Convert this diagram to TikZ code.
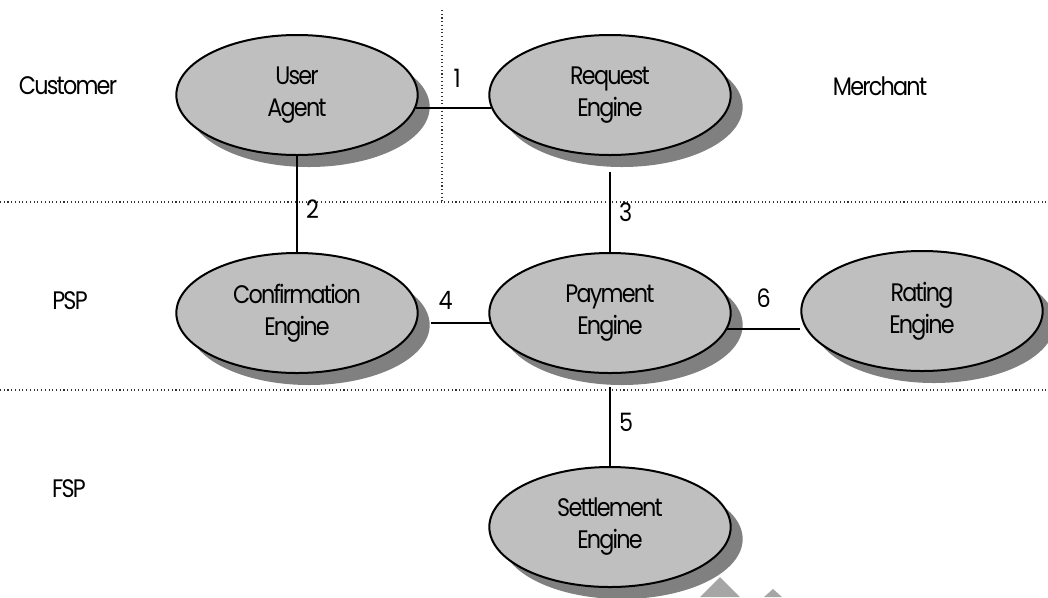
\documentclass[tikz,border=0pt]{standalone}
\usepackage{fontspec}
\setmainfont{Poppins}[LetterSpace=-7,FakeStretch=0.88]
\usetikzlibrary{shapes.geometric,shadows}
\tikzset{
  engine/.style={ellipse,draw=black,line width=1.5pt,fill=black!25,
    minimum width=181pt,minimum height=90pt,inner sep=0pt,align=center,
    font=\fontsize{19}{24}\selectfont,
    drop shadow={shadow xshift=9pt,shadow yshift=-9pt,fill=black!50,opacity=1}},
  link/.style={line width=1.5pt},
  lbl/.style={font=\fontsize{19}{24}\selectfont,inner sep=0pt},
  zone/.style={dotted,line width=0.8pt,black!80}
}
\begin{document}
\begin{tikzpicture}[x=0.75pt,y=-0.75pt]
  \useasboundingbox (0,0) rectangle (1048,597);

  % faint arrow piece at the bottom edge
  \fill[black!35] (700,597) -- (720,577) -- (740,597) -- cycle;
  \fill[black!35] (764,597) -- (773,589) -- (782,597) -- cycle;

  % zones
  \draw[zone] (0,202) -- (1048,202);
  \draw[zone] (0,390) -- (1048,390);
  \draw[zone] (442,10) -- (442,202);

  \node[lbl] (cust) at (68,86) {Customer};
  \node[lbl] (merch) at (880,86) {Merchant};
  \node[lbl] (psp) at (70,301) {PSP};
  \node[lbl] (fsp) at (69,489) {FSP};

  % engines
  \node[engine] (ua) at (297,95) {User\\Agent};
  \node[engine] (re) at (610,95) {Request\\Engine};
  \node[engine] (ce) at (297,313) {Confirmation\\Engine};
  \node[engine] (pe) at (610,313) {Payment\\Engine};
  \node[engine] (rt) at (922,311) {Rating\\Engine};
  \node[engine] (se) at (610,527) {Settlement\\Engine};

  % links
  \draw[link] (ua.-6) -- (re.186) node[lbl,pos=0.55,above=14pt] (n1) {1};
  \draw[link] (ua.south) -- (ce.north) node[lbl,pos=0.55,right=6pt] (n2) {2};
  \draw[link] ([yshift=-12pt]re.south) -- (pe.north) node[lbl,pos=0.5,right=6pt] (n3) {3};
  \draw[link] ([xshift=10.5pt]ce.-5) -- (pe.185) node[lbl,pos=0.25,above=10pt] (n4) {4};
  \draw[link] ([yshift=-10pt]pe.south) -- (se.north) node[lbl,pos=0.45,right=6pt] (n5) {5};
  \draw[link] (pe.-8) -- (pe.-8 -| rt.west) node[lbl,pos=0.5,above=16pt] (n6) {6};
\end{tikzpicture}
\end{document}
